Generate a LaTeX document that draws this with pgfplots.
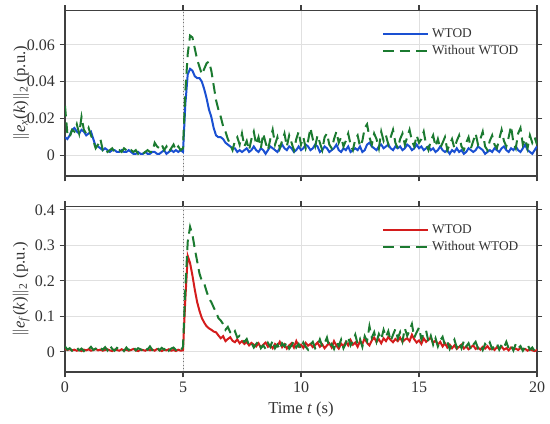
\documentclass[border=0pt]{standalone}
\usepackage{pgfplots}
\usepackage{pgfplotstable}
\pgfplotsset{compat=1.18}
\usepackage{fontspec}
\setmainfont{Liberation Serif}
\definecolor{cblue}{HTML}{1A50D2}
\definecolor{cgreen}{HTML}{1B7A30}
\definecolor{cred}{HTML}{D41C1C}
\definecolor{cframe}{HTML}{404040}

\pgfplotstableread{
t w wo
0.0 0.010 0.027
0.1 0.009 0.012
0.2 0.011 0.010
0.3 0.014 0.014
0.4 0.015 0.013
0.5 0.013 0.017
0.6 0.012 0.012
0.7 0.014 0.021
0.8 0.013 0.014
0.9 0.011 0.012
1.0 0.012 0.015
1.1 0.013 0.011
1.2 0.009 0.008
1.3 0.005 0.004
1.4 0.005 0.006
1.5 0.004 0.009
1.6 0.003 0.003
1.7 0.004 0.004
1.8 0.003 0.002
1.9 0.002 0.003
2.0 0.003 0.004
2.1 0.003 0.002
2.2 0.002 0.003
2.3 0.002 0.003
2.4 0.003 0.002
2.5 0.002 0.004
2.6 0.002 0.003
2.7 0.003 0.002
2.8 0.002 0.003
2.9 0.001 0.002
3.0 0.001 0.003
3.1 0.002 0.001
3.2 0.001 0.002
3.3 0.001 0.001
3.4 0.002 0.002
3.5 0.001 0.003
3.6 0.001 0.002
3.7 0.002 0.002
3.8 0.002 0.007
3.9 0.001 0.005
4.0 0.001 0.004
4.1 0.002 0.006
4.2 0.003 0.003
4.3 0.001 0.005
4.4 0.002 0.002
4.5 0.003 0.004
4.6 0.002 0.006
4.7 0.003 0.003
4.8 0.002 0.005
4.9 0.003 0.003
5.0 0.002 0.004
5.1 0.028 0.035
5.2 0.044 0.055
5.3 0.047 0.065
5.4 0.046 0.064
5.5 0.043 0.058
5.6 0.042 0.052
5.7 0.042 0.048
5.8 0.040 0.044
5.9 0.036 0.047
6.0 0.031 0.050
6.1 0.025 0.051
6.2 0.021 0.046
6.3 0.015 0.038
6.4 0.011 0.030
6.5 0.010 0.025
6.6 0.010 0.021
6.7 0.009 0.016
6.8 0.007 0.013
6.9 0.006 0.009
7.0 0.005 0.006
7.1 0.004 0.003
7.2 0.004 0.008
7.3 0.002 0.010
7.4 0.003 0.006
7.5 0.002 0.012
7.6 0.003 0.005
7.7 0.004 0.008
7.8 0.002 0.003
7.9 0.003 0.009
8.0 0.005 0.013
8.1 0.003 0.006
8.2 0.002 0.010
8.3 0.004 0.004
8.4 0.003 0.012
8.5 0.001 0.007
8.6 0.003 0.003
8.7 0.005 0.009
8.8 0.004 0.014
8.9 0.003 0.006
9.0 0.002 0.010
9.1 0.004 0.004
9.2 0.006 0.008
9.3 0.004 0.012
9.4 0.003 0.005
9.5 0.005 0.011
9.6 0.004 0.007
9.7 0.002 0.003
9.8 0.003 0.009
9.9 0.005 0.013
10.0 0.003 0.006
10.1 0.004 0.010
10.2 0.006 0.004
10.3 0.005 0.008
10.4 0.003 0.015
10.5 0.004 0.009
10.6 0.006 0.005
10.7 0.005 0.011
10.8 0.002 0.007
10.9 0.003 0.003
11.0 0.005 0.010
11.1 0.004 0.012
11.2 0.002 0.006
11.3 0.003 0.004
11.4 0.004 0.009
11.5 0.006 0.013
11.6 0.003 0.007
11.7 0.002 0.010
11.8 0.004 0.005
11.9 0.003 0.008
12.0 0.005 0.012
12.1 0.002 0.006
12.2 0.003 0.003
12.3 0.004 0.009
12.4 0.003 0.011
12.5 0.005 0.005
12.6 0.002 0.008
12.7 0.003 0.015
12.8 0.006 0.017
12.9 0.007 0.010
13.0 0.005 0.006
13.1 0.004 0.012
13.2 0.003 0.009
13.3 0.005 0.004
13.4 0.006 0.013
13.5 0.004 0.008
13.6 0.005 0.011
13.7 0.006 0.006
13.8 0.004 0.010
13.9 0.003 0.014
14.0 0.005 0.007
14.1 0.004 0.004
14.2 0.005 0.009
14.3 0.003 0.012
14.4 0.004 0.006
14.5 0.006 0.010
14.6 0.005 0.014
14.7 0.003 0.008
14.8 0.004 0.005
14.9 0.006 0.011
15.0 0.004 0.007
15.1 0.005 0.009
15.2 0.003 0.013
15.3 0.004 0.006
15.4 0.005 0.003
15.5 0.003 0.008
15.6 0.004 0.011
15.7 0.002 0.005
15.8 0.003 0.009
15.9 0.005 0.004
16.0 0.003 0.007
16.1 0.002 0.010
16.2 0.003 0.003
16.3 0.001 0.006
16.4 0.003 0.009
16.5 0.002 0.004
16.6 0.004 0.008
16.7 0.002 0.011
16.8 0.003 0.005
16.9 0.001 0.003
17.0 0.002 0.007
17.1 0.004 0.010
17.2 0.003 0.004
17.3 0.002 0.008
17.4 0.003 0.012
17.5 0.005 0.006
17.6 0.004 0.009
17.7 0.003 0.013
17.8 0.001 0.005
17.9 0.002 0.003
18.0 0.003 0.008
18.1 0.002 0.011
18.2 0.004 0.006
18.3 0.003 0.004
18.4 0.002 0.009
18.5 0.004 0.014
18.6 0.005 0.008
18.7 0.003 0.005
18.8 0.002 0.010
18.9 0.004 0.016
19.0 0.003 0.007
19.1 0.005 0.004
19.2 0.003 0.012
19.3 0.002 0.015
19.4 0.004 0.006
19.5 0.006 0.009
19.6 0.003 0.004
19.7 0.002 0.011
19.8 0.001 0.007
19.9 0.003 0.010
20.0 0.005 0.006
}\topdata

\pgfplotstableread{
t w wo
0.0 0.008 0.015
0.1 0.005 0.006
0.2 0.007 0.010
0.3 0.004 0.003
0.4 0.006 0.008
0.5 0.003 0.012
0.6 0.005 0.004
0.7 0.002 0.009
0.8 0.006 0.002
0.9 0.004 0.011
1.0 0.007 0.007
1.1 0.003 0.014
1.2 0.005 0.005
1.3 0.008 0.009
1.4 0.004 0.003
1.5 0.006 0.010
1.6 0.003 0.006
1.7 0.005 0.013
1.8 0.007 0.004
1.9 0.004 0.018
2.0 0.002 0.008
2.1 0.006 0.003
2.2 0.005 0.011
2.3 0.003 0.006
2.4 0.007 0.009
2.5 0.004 0.002
2.6 0.006 0.012
2.7 0.003 0.005
2.8 0.005 0.008
2.9 0.008 0.014
3.0 0.004 0.004
3.1 0.002 0.010
3.2 0.006 0.007
3.3 0.005 0.003
3.4 0.003 0.012
3.5 0.007 0.006
3.6 0.004 0.015
3.7 0.006 0.005
3.8 0.003 0.009
3.9 0.008 0.013
4.0 0.005 0.004
4.1 0.002 0.011
4.2 0.006 0.006
4.3 0.004 0.014
4.4 0.007 0.003
4.5 0.003 0.009
4.6 0.005 0.012
4.7 0.002 0.005
4.8 0.006 0.008
4.9 0.003 0.003
5.0 0.004 0.014
5.1 0.150 0.180
5.2 0.270 0.310
5.3 0.250 0.352
5.4 0.215 0.330
5.5 0.175 0.290
5.6 0.140 0.255
5.7 0.115 0.220
5.8 0.095 0.200
5.9 0.082 0.192
6.0 0.072 0.170
6.1 0.066 0.150
6.2 0.062 0.140
6.3 0.057 0.125
6.4 0.055 0.112
6.5 0.046 0.095
6.6 0.038 0.088
6.7 0.044 0.078
6.8 0.030 0.062
6.9 0.036 0.070
7.0 0.041 0.055
7.1 0.031 0.048
7.2 0.027 0.058
7.3 0.035 0.040
7.4 0.024 0.045
7.5 0.030 0.034
7.6 0.022 0.028
7.7 0.028 0.036
7.8 0.018 0.018
7.9 0.025 0.025
8.0 0.020 0.012
8.1 0.015 0.022
8.2 0.024 0.030
8.3 0.012 0.010
8.4 0.020 0.018
8.5 0.026 0.008
8.6 0.014 0.025
8.7 0.019 0.014
8.8 0.010 0.032
8.9 0.022 0.010
9.0 0.016 0.020
9.1 0.028 0.006
9.2 0.013 0.024
9.3 0.021 0.015
9.4 0.009 0.028
9.5 0.018 0.009
9.6 0.024 0.018
9.7 0.012 0.030
9.8 0.030 0.012
9.9 0.015 0.022
10.0 0.020 0.008
10.1 0.011 0.026
10.2 0.025 0.014
10.3 0.017 0.006
10.4 0.022 0.020
10.5 0.013 0.028
10.6 0.019 0.010
10.7 0.026 0.018
10.8 0.014 0.035
10.9 0.021 0.015
11.0 0.010 0.024
11.1 0.018 0.040
11.2 0.024 0.012
11.3 0.012 0.022
11.4 0.030 0.008
11.5 0.017 0.028
11.6 0.009 0.016
11.7 0.023 0.034
11.8 0.015 0.010
11.9 0.028 0.024
12.0 0.018 0.042
12.1 0.033 0.018
12.2 0.020 0.030
12.3 0.026 0.048
12.4 0.014 0.022
12.5 0.030 0.036
12.6 0.022 0.014
12.7 0.038 0.044
12.8 0.025 0.030
12.9 0.018 0.072
13.0 0.032 0.040
13.1 0.040 0.055
13.2 0.028 0.028
13.3 0.035 0.050
13.4 0.024 0.035
13.5 0.038 0.062
13.6 0.030 0.042
13.7 0.042 0.058
13.8 0.033 0.030
13.9 0.027 0.048
14.0 0.036 0.064
14.1 0.030 0.038
14.2 0.040 0.055
14.3 0.028 0.030
14.4 0.034 0.066
14.5 0.038 0.045
14.6 0.030 0.060
14.7 0.048 0.078
14.8 0.035 0.040
14.9 0.026 0.055
15.0 0.032 0.068
15.1 0.022 0.035
15.2 0.038 0.052
15.3 0.028 0.060
15.4 0.034 0.028
15.5 0.040 0.045
15.6 0.025 0.020
15.7 0.032 0.038
15.8 0.020 0.015
15.9 0.028 0.032
16.0 0.015 0.042
16.1 0.024 0.018
16.2 0.012 0.028
16.3 0.020 0.008
16.4 0.010 0.022
16.5 0.018 0.034
16.6 0.008 0.012
16.7 0.014 0.026
16.8 0.020 0.010
16.9 0.009 0.030
17.0 0.015 0.015
17.1 0.007 0.024
17.2 0.013 0.006
17.3 0.018 0.020
17.4 0.008 0.028
17.5 0.012 0.010
17.6 0.006 0.018
17.7 0.014 0.005
17.8 0.009 0.022
17.9 0.016 0.014
18.0 0.007 0.026
18.1 0.011 0.008
18.2 0.005 0.016
18.3 0.013 0.024
18.4 0.008 0.006
18.5 0.015 0.020
18.6 0.006 0.012
18.7 0.010 0.028
18.8 0.004 0.009
18.9 0.012 0.018
19.0 0.007 0.004
19.1 0.009 0.022
19.2 0.005 0.010
19.3 0.011 0.016
19.4 0.006 0.003
19.5 0.008 0.014
19.6 0.003 0.020
19.7 0.007 0.006
19.8 0.004 0.012
19.9 0.002 0.002
20.0 0.005 0.008
}\botdata

\pgfplotsset{
  myaxis/.style={
    scale only axis,
    width=354pt, height=124pt,
    anchor=south west,
    xmin=0, xmax=20,
    xtick={0,5,10,15,20},
    grid=major,
    major grid style={draw=black!12, line width=0.6pt},
    axis line style={draw=cframe, line width=0.9pt},
    tick style={draw=cframe, line width=0.8pt},
    tick align=outside,
    major tick length=4pt,
    tick label style={font=\fontsize{12}{14}\selectfont, text=black!80},
    label style={font=\fontsize{12.5}{14}\selectfont, text=black!80},
    /pgf/number format/assume math mode=true,
    scaled ticks=false,
    ylabel style={at={(axis description cs:-0.093,0.5)}, anchor=center},
    legend style={at={(0.975,0.925)}, anchor=north east, draw=none, fill=none,
      font=\fontsize{10}{12}\selectfont, text=black!80, row sep=0.5pt},
    legend cell align=left,
    legend image code/.code={\draw[##1] (0pt,0pt) -- (34pt,0pt);},
  },
}

\begin{document}
\begin{tikzpicture}
\useasboundingbox (0,0) rectangle (412.5pt,318pt);
\begin{axis}[myaxis,
  at={(48.75pt,186pt)},
  ymin=-0.011, ymax=0.0785,
  ytick={0,0.02,0.04,0.06},
  yticklabels={0,0.02,0.04,0.06},
  xticklabels={},
  ylabel={$\|$\textit{e}\textsubscript{\textit{x}}(\textit{k})$\|$\textsubscript{2} (p.u.)},
]
\addplot[black!55, dotted, line width=0.7pt, forget plot] coordinates {(5,-0.02) (5,0.09)};
\addplot[cblue, line width=1.5pt] table[x=t, y=w] {\topdata};
\addlegendentry{WTOD}
\addplot[cgreen, line width=1.5pt, dash pattern=on 8pt off 4.5pt] table[x=t, y=wo] {\topdata};
\addlegendentry{Without WTOD}
\end{axis}
\begin{axis}[myaxis,
  at={(48.75pt,39pt)},
  ymin=-0.057, ymax=0.409,
  ytick={0,0.1,0.2,0.3,0.4},
  yticklabels={0,0.1,0.2,0.3,0.4},
  xticklabels={0,5,10,15,20},
  xlabel={Time \textit{t} (s)},
  ylabel={$\|$\textit{e}\textsubscript{\textit{f}}(\textit{k})$\|$\textsubscript{2} (p.u.)},
]
\addplot[black!55, dotted, line width=0.7pt, forget plot] coordinates {(5,-0.1) (5,0.5)};
\addplot[cred, line width=1.5pt] table[x=t, y=w] {\botdata};
\addlegendentry{WTOD}
\addplot[cgreen, line width=1.5pt, dash pattern=on 8pt off 4.5pt] table[x=t, y=wo] {\botdata};
\addlegendentry{Without WTOD}
\end{axis}
\end{tikzpicture}
\end{document}
